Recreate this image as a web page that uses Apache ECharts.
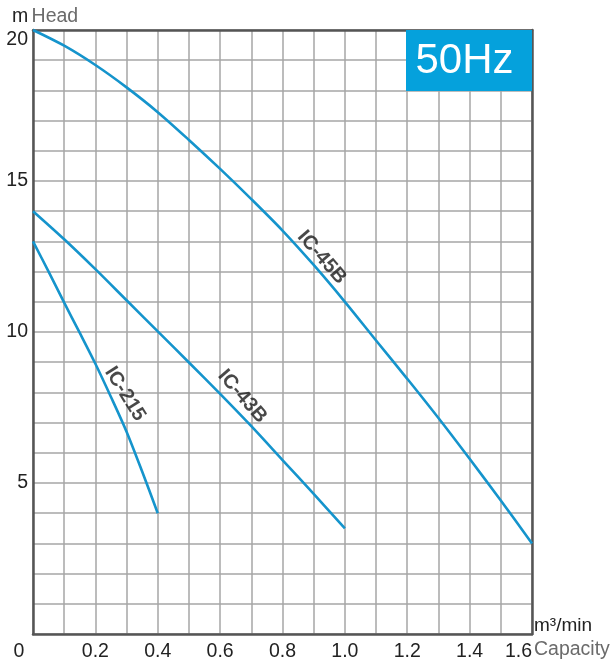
<!DOCTYPE html>
<html>
<head>
<meta charset="utf-8">
<script src="https://cdn.jsdelivr.net/npm/echarts@6/dist/echarts.min.js"></script>
<style>
html,body{margin:0;padding:0;background:#fff;}
#c{width:613px;height:662px;}
</style>
</head>
<body>
<div id="c"></div>
<script>
// ---- data ----
const capacity45 = [0,0.1,0.2,0.3,0.4,0.5,0.6,0.7,0.8,0.9,1.0,1.1,1.2,1.3,1.4,1.5,1.6];
const head45     = [20.0,19.48,18.84,18.1,17.28,16.36,15.4,14.4,13.36,12.22,11.0,9.72,8.45,7.15,5.8,4.42,3.0];
const capacity43 = [0,0.1,0.2,0.3,0.4,0.5,0.6,0.7,0.8,0.9,1.0];
const head43     = [14.0,13.07,12.08,11.05,10.02,8.99,7.95,6.88,5.76,4.64,3.5];
const capacity215 = [0,0.05,0.1,0.15,0.2,0.25,0.3,0.35,0.4];
const head215     = [13.0,12.0,10.97,9.97,8.95,7.85,6.7,5.38,4.0];
const seriesNames = ['IC-45B','IC-43B','IC-215'];
const labelAt = [[0.926,12.47],[0.671,7.87],[0.295,7.95]];
const xTickValues = [0,0.2,0.4,0.6,0.8,1.0,1.2,1.4,1.6];
const xTickLabels = ['0','0.2','0.4','0.6','0.8','1.0','1.2','1.4','1.6'];
const yTickValues = [5,10,15,20];
const yTickLabels = ['5','10','15','20'];

const FONT = '"Liberation Sans", Arial, sans-serif';
const BLUE = '#1594cc';
const zip = (xs, ys) => xs.map((x, i) => [x, ys[i]]);

const chart = echarts.init(document.getElementById('c'), null, {renderer:'canvas'});

function xFmt(v){
  const k = Math.round(v*10);
  const i = xTickValues.findIndex(t => Math.round(t*10) === k);
  if (i < 0) return '';
  if (k === 0) return '{z|' + xTickLabels[i] + '}';
  return xTickLabels[i];
}
function yFmt(v){
  const i = yTickValues.findIndex(t => Math.round(t) === Math.round(v));
  return i < 0 ? '' : yTickLabels[i];
}

const gridLine = {show:true, lineStyle:{color:'#a6a6a6', width:1.5}};
const darkLine = {show:true, onZero:false, lineStyle:{color:'#555', width:2.5}};
const lineStyle = {color:BLUE, width:2.6};

chart.setOption({
  animation:false,
  backgroundColor:'#fff',
  grid:{left:33, top:30, right:81, bottom:27, containLabel:false},
  xAxis:[{
    type:'value', min:0, max:1.6, interval:0.1,
    axisLine:darkLine, axisTick:{show:false}, splitLine:gridLine,
    axisLabel:{formatter:xFmt, color:'#222', fontSize:19.5, fontFamily:FONT, margin:8,
      alignMaxLabel:'right',
      rich:{z:{fontSize:19.5, fontFamily:FONT, color:'#222', padding:[0,28,0,0]}}}
  },{
    type:'value', min:0, max:1.6, position:'top',
    axisLine:darkLine, axisTick:{show:false}, axisLabel:{show:false}, splitLine:{show:false}
  }],
  yAxis:[{
    type:'value', min:0, max:20, interval:1,
    axisLine:darkLine, axisTick:{show:false}, splitLine:gridLine,
    axisLabel:{formatter:yFmt, color:'#222', fontSize:19.5, fontFamily:FONT, margin:5,
      verticalAlignMaxLabel:'top'}
  },{
    type:'value', min:0, max:20, position:'right',
    axisLine:darkLine, axisTick:{show:false}, axisLabel:{show:false}, splitLine:{show:false}
  }],
  series:[
    {name:seriesNames[0], type:'line', data:zip(capacity45, head45), smooth:0.3,
      symbol:'none', lineStyle:lineStyle, z:3},
    {name:seriesNames[1], type:'line', data:zip(capacity43, head43), smooth:0.3,
      symbol:'none', lineStyle:lineStyle, z:3},
    {name:seriesNames[2], type:'line', data:zip(capacity215, head215), smooth:0.3,
      symbol:'none', lineStyle:lineStyle, z:3},
    {type:'scatter', symbolSize:0, z:4, silent:true,
      data:[
        {value:labelAt[0], name:seriesNames[0], label:{rotate:-49}},
        {value:labelAt[1], name:seriesNames[1], label:{rotate:-49}},
        {value:labelAt[2], name:seriesNames[2], label:{rotate:-58}}
      ],
      label:{show:true, position:'inside', formatter:'{b}', color:'#1a1a1a', fontSize:20,
        fontWeight:'bold', fontFamily:FONT, align:'center', verticalAlign:'middle'}
    }
  ],
  graphic:[
    {type:'rect', left:406, top:30, shape:{width:126, height:61}, style:{fill:'#05a1dc'}, z:10},
    {type:'text', x:464.5, y:61, z:11,
      style:{text:'50Hz', fill:'#fff', font:'42px ' + FONT, align:'center', verticalAlign:'middle'}},
    {type:'text', x:12, y:17, z:11,
      style:{text:'{m|m} {h|Head}', verticalAlign:'middle', align:'left',
        rich:{m:{fontSize:19.5, fontFamily:FONT, fill:'#222'}, h:{fontSize:19.5, fontFamily:FONT, fill:'#6b6b6b'}}}},
    {type:'text', x:534, y:626, z:11,
      style:{text:'m³/min', fill:'#222', font:'19px ' + FONT, align:'left', verticalAlign:'middle'}},
    {type:'text', x:534, y:650, z:11,
      style:{text:'Capacity', fill:'#6b6b6b', font:'19.5px ' + FONT, align:'left', verticalAlign:'middle'}}
  ]
});
</script>
</body>
</html>
